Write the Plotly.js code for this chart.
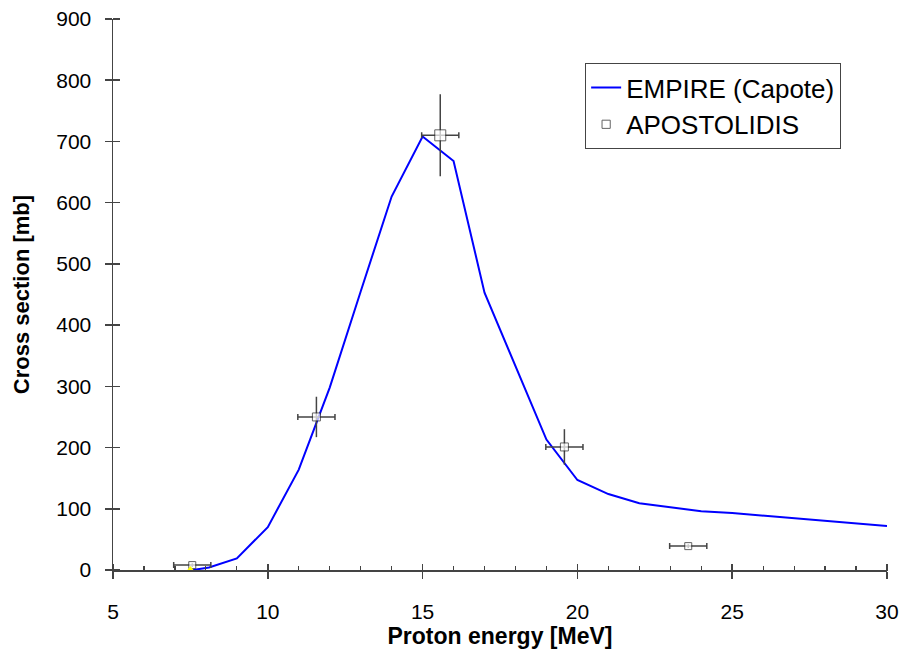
<!DOCTYPE html>
<html>
<head>
<meta charset="utf-8">
<script src="https://cdn.plot.ly/plotly-3.0.1.min.js"></script>
<style>html,body{margin:0;padding:0;background:#fff;}#chart{width:903px;height:660px;}</style>
</head>
<body>
<div id="chart"></div>
<script>
// EMPIRE (Capote) calculation
const empireEnergy = [7.58, 8.1, 9, 10, 11, 12, 13, 14, 15, 16, 17, 18, 19, 20, 21, 22, 23, 24, 25, 26, 27, 28, 29, 30];
const empireXS = [0, 4, 19, 70, 164, 298, 455, 610, 708, 668, 453, 333, 213, 147, 124, 109, 102, 96, 93, 89, 85, 81, 77, 72];

// APOSTOLIDIS experimental data
const expEnergy = [7.56, 11.57, 15.57, 19.58, 23.58];
const expXS = [8, 250, 710, 201, 39];
const expEnergyErr = [0.6, 0.6, 0.6, 0.6, 0.6];
const expXSErr = [3, 33, 67, 29, 3];
const expMarkerSize = [7, 8, 11, 8, 7];

// threshold marker
const thrEnergy = [7.5];
const thrXS = [0];

const xTicks = [5, 10, 15, 20, 25, 30];
const xMinorTicks = [6, 7, 8, 9, 11, 12, 13, 14, 16, 17, 18, 19, 21, 22, 23, 24, 26, 27, 28, 29];
const yTicks = [0, 100, 200, 300, 400, 500, 600, 700, 800, 900];

const axisColor = '#444';
const fontFam = '"Liberation Sans", Arial, sans-serif';

// plot area size in px (for placing the helper tick axes a few px inside)
const plotW = 903 - 113 - 16;
const plotH = 660 - 19 - 90;

const traces = [
  {
    x: empireEnergy, y: empireXS, type: 'scatter', mode: 'lines',
    name: 'EMPIRE (Capote)',
    line: {color: '#0000ff', width: 2},
    cliponaxis: false
  },
  {
    x: expEnergy, y: expXS, type: 'scatter', mode: 'markers',
    name: 'APOSTOLIDIS',
    marker: {symbol: 'square', size: expMarkerSize, color: '#ffffff', line: {width: 1, color: '#222'}},
    error_x: {type: 'data', array: expEnergyErr, visible: true, color: '#444', thickness: 1.5, width: 3},
    error_y: {type: 'data', array: expXSErr, visible: true, color: '#444', thickness: 1.5, width: 0},
    cliponaxis: false
  },
  {
    x: thrEnergy, y: thrXS, type: 'scatter', mode: 'markers',
    xaxis: 'x2', yaxis: 'y2',
    showlegend: false, hoverinfo: 'skip',
    marker: {symbol: 'triangle-up', size: 8, color: '#ffff00'},
    cliponaxis: false
  },
  {
    x: [], y: [], type: 'scatter', mode: 'markers',
    xaxis: 'x3', yaxis: 'y2', showlegend: false, hoverinfo: 'skip'
  }
];

const layout = {
  width: 903, height: 660,
  margin: {l: 113, r: 16, t: 19, b: 90},
  paper_bgcolor: '#fff', plot_bgcolor: '#fff',
  font: {family: fontFam, color: '#000', size: 21},
  showlegend: true,
  legend: {
    x: 0.61, y: 0.92, xanchor: 'left', yanchor: 'top',
    bgcolor: '#fff', bordercolor: '#444', borderwidth: 1,
    font: {family: fontFam, size: 26, color: '#000'},
    itemwidth: 30, tracegroupgap: 0
  },
  xaxis: {
    range: [5, 30], tickvals: xTicks, ticktext: xTicks.map(String),
    ticks: 'outside', ticklen: 7, tickwidth: 1.5, tickcolor: axisColor,
    showline: true, linecolor: axisColor, linewidth: 1.5,
    showgrid: false, zeroline: false,
    ticklabelstandoff: 15,
    tickfont: {size: 21},
    title: {text: '<b>Proton energy [MeV]</b>', font: {size: 23}, standoff: 3}
  },
  // upper half of the crossing major ticks
  xaxis2: {
    overlaying: 'x', anchor: 'free', position: 7 / plotH,
    range: [5, 30], tickvals: xTicks,
    ticks: 'outside', ticklen: 7, tickwidth: 1.5, tickcolor: axisColor,
    showticklabels: false, showline: false, showgrid: false, zeroline: false
  },
  // small minor ticks inside
  xaxis3: {
    overlaying: 'x', anchor: 'free', position: 5 / plotH,
    range: [5, 30], tickvals: xMinorTicks,
    ticks: 'outside', ticklen: 5, tickwidth: 1.2, tickcolor: axisColor,
    showticklabels: false, showline: false, showgrid: false, zeroline: false
  },
  yaxis: {
    range: [0, 900], tickvals: yTicks, ticktext: yTicks.map(String),
    ticks: 'outside', ticklen: 7, tickwidth: 1.5, tickcolor: axisColor,
    showline: true, linecolor: axisColor, linewidth: 1.5,
    showgrid: false, zeroline: false,
    ticklabelstandoff: 9,
    tickfont: {size: 21},
    title: {text: '<b>Cross section [mb]</b>', font: {size: 22}, standoff: 20}
  },
  // right half of the crossing y ticks
  yaxis2: {
    overlaying: 'y', anchor: 'free', position: 7 / plotW,
    range: [0, 900], tickvals: yTicks,
    ticks: 'outside', ticklen: 7, tickwidth: 1.5, tickcolor: axisColor,
    showticklabels: false, showline: false, showgrid: false, zeroline: false
  }
};

Plotly.newPlot('chart', traces, layout, {staticPlot: true, displayModeBar: false});
</script>
</body>
</html>
